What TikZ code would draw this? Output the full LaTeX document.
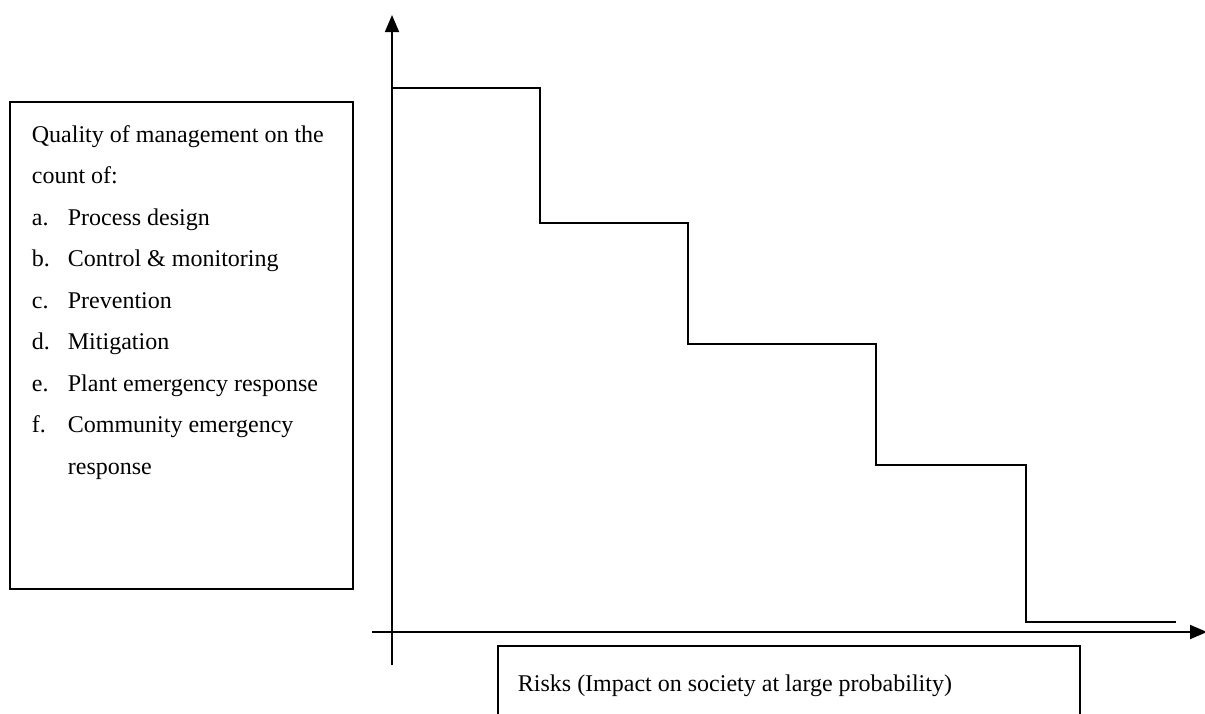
\documentclass[tikz,border=0pt]{standalone}
\usepackage{fontspec}
\setmainfont{Liberation Serif}
\usetikzlibrary{arrows.meta}

\begin{document}
\begin{tikzpicture}[x=1pt, y=-1pt, line width=1.8pt,
  panel/.style={draw, inner sep=0pt, anchor=north west},
  txt/.style={inner sep=0pt, font={\fontsize{24}{41.5}\selectfont}}]
\useasboundingbox (0,0) rectangle (1205,713);

\node[panel, minimum width=343, minimum height=487] (quality) at (9,101) {};
\node[txt, anchor=north west, align=left] (qualtext) at (31,124.5)
  {Quality of management on the\\
   count of:\\
   \makebox[36pt][l]{a.}Process design\\
   \makebox[36pt][l]{b.}Control \& monitoring\\
   \makebox[36pt][l]{c.}Prevention\\
   \makebox[36pt][l]{d.}Mitigation\\
   \makebox[36pt][l]{e.}Plant emergency response\\
   \makebox[36pt][l]{f.}Community emergency\\
   \hspace*{36pt}response};

\node[panel, minimum width=582, minimum height=120] (riskbox) at (497,645) {};
\node[txt, anchor=base west] (risklabel) at (517,691) {Risks (Impact on society at large probability)};

\coordinate (ybot) at (392,665);
\coordinate (ytop) at (392,15);
\coordinate (xleft) at (372,632);
\coordinate (xright) at (1207,632);
\draw[-{Triangle[length=17pt,width=14pt]}] (ybot) -- (ytop);
\draw[-{Triangle[length=17pt,width=14pt]}] (xleft) -- (xright);

\draw (392,88) -- (540,88) -- (540,223) -- (688,223) -- (688,344) -- (876,344)
  -- (876,465) -- (1026,465) -- (1026,622) -- (1176,622);
\end{tikzpicture}
\end{document}
